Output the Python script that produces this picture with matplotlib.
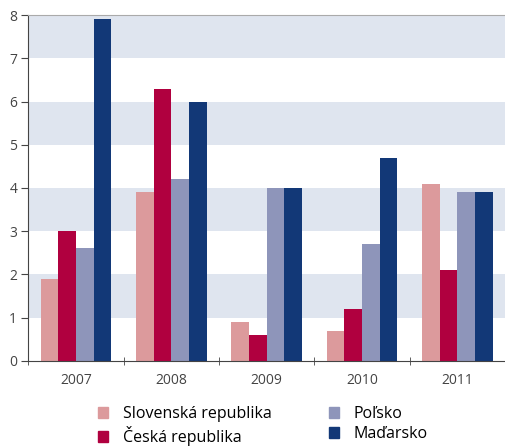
import numpy as np
import matplotlib.pyplot as plt
from matplotlib.patches import Patch

plt.rcParams['font.family'] = ['Open Sans', 'DejaVu Sans']

years = ['2007', '2008', '2009', '2010', '2011']
slovensko = [1.9, 3.9, 0.9, 0.7, 4.1]
cesko = [3.0, 6.3, 0.6, 1.2, 2.1]
polsko = [2.6, 4.2, 4.0, 2.7, 3.9]
madarsko = [7.9, 6.0, 4.0, 4.7, 3.9]

labels = ['Slovenská republika', 'Česká republika', 'Poľsko', 'Maďarsko']
colors = ['#dc9a9c', '#b0003f', '#8e95ba', '#123877']
series = [slovensko, cesko, polsko, madarsko]

fig = plt.figure(figsize=(5.06, 4.46), dpi=100)
ax = fig.add_axes([0.056, 0.191, 0.942, 0.775])

# pasy v pozadi
for lo in [1, 3, 5, 7]:
    ax.axhspan(lo, lo + 1, color='#dfe5ef', zorder=0, lw=0)

x = np.arange(len(years))
w = 0.185
for i, (vals, c) in enumerate(zip(series, colors)):
    ax.bar(x + (i - 1.5) * w, vals, w, color=c, zorder=2)

ax.set_xlim(-0.5, len(years) - 0.5)
ax.set_ylim(0, 8)
ax.set_yticks(range(9))
ax.set_xticks(x)
ax.set_xticklabels(years)
ax.set_xticks(np.arange(-0.5, len(years)), minor=True)
ax.tick_params(axis='x', which='major', length=0, labelsize=10, colors='#444444', pad=9)
ax.tick_params(axis='x', which='minor', length=6, direction='inout', color='#444444')
ax.tick_params(axis='y', length=5, labelsize=10, colors='#444444', pad=3)

ax.spines['right'].set_visible(False)
ax.spines['top'].set_color('#aaaaaa')
ax.spines['left'].set_color('#444444')
ax.spines['bottom'].set_color('#444444')

handles = [Patch(color=c) for c in colors]
fig.legend(handles, labels, ncol=2, loc='upper left', bbox_to_anchor=(0.165, 0.121),
           frameon=False, fontsize=11.5, handlelength=0.65, handleheight=0.65,
           columnspacing=3.6, labelspacing=0.25, handletextpad=0.9)

fig.savefig('out.png', dpi=100)
